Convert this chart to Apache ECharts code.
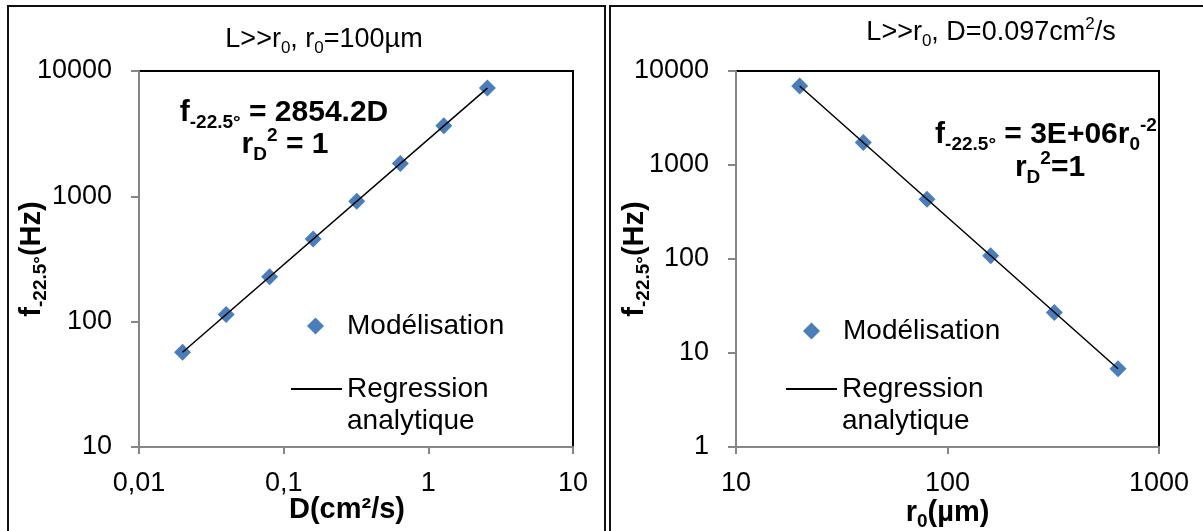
<!DOCTYPE html>
<html>
<head>
<meta charset="utf-8">
<script src="https://cdn.jsdelivr.net/npm/echarts@6/dist/echarts.min.js"></script>
<style>
html,body{margin:0;padding:0;background:#fff;}
#chart{width:1203px;height:531px;}
</style>
</head>
<body>
<div id="chart"></div>
<script>
// ---------- data ----------
const leftD = [0.02, 0.04, 0.08, 0.16, 0.32, 0.64, 1.28, 2.56];
const leftF = [57, 114, 228, 457, 913, 1827, 3653, 7307];
const leftRegD = [0.02, 2.56];
const leftRegF = [57, 7307];

const rightR0 = [20, 40, 80, 160, 320, 640];
const rightF = [6920, 1730, 433, 108, 27, 6.8];
const rightRegR0 = [20, 640];
const rightRegF = [6920, 6.8];

const leftXTicks = ['0,01', '0,1', '1', '10'];
const leftYTicks = ['10', '100', '1000', '10000'];
const rightXTicks = ['10', '100', '1000'];
const rightYTicks = ['1', '10', '100', '1000', '10000'];

const legendLabels = ['Modélisation', 'Regression', 'analytique'];

// ---------- styles ----------
const FONT = '"Liberation Sans", Arial, sans-serif';
const BLUE = '#4A7EBB';
const AXIS_GRAY = '#868686';
const TICK_FS = 27;
const LEG_FS = 28;
const NAME_FS = 29;
const TITLE_FS = 27;
const EQ_FS = 30;

function zip(a, b) { return a.map((v, i) => [v, b[i]]); }
function tickFmt(ticks, min) {
  return function (v) {
    const i = Math.round(Math.log10(v) - Math.log10(min));
    return ticks[i] !== undefined ? ticks[i] : '';
  };
}

function subRich(fs, bold) {
  const w = bold ? 'bold' : 'normal';
  const lh = Math.round(fs * 1.25);
  return {
    m: { fontSize: fs, fontWeight: w, fontFamily: FONT, color: '#000', lineHeight: lh, verticalAlign: 'middle' },
    sub: { fontSize: Math.round(fs * 0.64), fontWeight: w, fontFamily: FONT, color: '#000', lineHeight: Math.round(fs * 0.7), verticalAlign: 'bottom' },
    sup: { fontSize: Math.round(fs * 0.64), fontWeight: w, fontFamily: FONT, color: '#000', lineHeight: Math.round(fs * 0.7), verticalAlign: 'top' }
  };
}

function xAxis(gi, min, max, ticks, nameRich, nameText, nameGap, namePad) {
  return {
    type: 'log', logBase: 10, gridIndex: gi, min: min, max: max,
    name: nameText, nameLocation: 'middle', nameGap: nameGap, nameMoveOverlap: false,
    nameTextStyle: { rich: nameRich, padding: namePad },
    axisLine: { show: true, lineStyle: { color: AXIS_GRAY, width: 2 } },
    axisTick: { show: true, inside: false, length: 7, lineStyle: { color: AXIS_GRAY, width: 2 } },
    minorTick: { show: false },
    splitLine: { show: false },
    axisLabel: { formatter: tickFmt(ticks, min), fontSize: TICK_FS, fontFamily: FONT, color: '#000', margin: 23, showMinLabel: true, showMaxLabel: true, hideOverlap: false }
  };
}
function yAxis(gi, min, max, ticks, nameRich, nameText, nameGap) {
  return {
    type: 'log', logBase: 10, gridIndex: gi, min: min, max: max,
    name: nameText, nameLocation: 'middle', nameGap: nameGap, nameMoveOverlap: false,
    nameTextStyle: { rich: nameRich },
    axisLine: { show: true, lineStyle: { color: AXIS_GRAY, width: 2 } },
    axisTick: { show: true, inside: false, length: 8, lineStyle: { color: AXIS_GRAY, width: 2 } },
    minorTick: { show: false },
    splitLine: { show: false },
    axisLabel: { formatter: tickFmt(ticks, min), fontSize: TICK_FS, fontFamily: FONT, color: '#000', margin: 27, showMinLabel: true, showMaxLabel: true, hideOverlap: false }
  };
}

const nameRich = subRich(NAME_FS, true);
const titleRich = subRich(TITLE_FS, false);
const eqRich = subRich(EQ_FS, true);
const legRich = { t: { fontSize: LEG_FS, fontFamily: FONT, color: '#000', lineHeight: 32 } };
const legRichPad = { t: { fontSize: LEG_FS, fontFamily: FONT, color: '#000', lineHeight: 32, padding: [0, 0, 0, 18] } };

function markerLegend(seriesName, left, top) {
  return {
    data: [{ name: seriesName, icon: 'diamond', itemStyle: { color: BLUE, opacity: 1 } }],
    left: left, top: top, orient: 'vertical', padding: 0,
    itemWidth: 17, itemHeight: 17, selectedMode: false,
    formatter: function () { return '{t|' + legendLabels[0] + '}'; },
    textStyle: { rich: legRichPad }
  };
}
function lineLegend(seriesName, left, top) {
  return {
    data: [{ name: seriesName, icon: 'rect', itemStyle: { color: '#000', opacity: 1 } }],
    left: left, top: top, orient: 'vertical', padding: 0,
    itemWidth: 51, itemHeight: 2, selectedMode: false,
    formatter: function () { return '{t| }\n{t|' + legendLabels[1] + '}\n{t|' + legendLabels[2] + '}'; },
    textStyle: { rich: legRich }
  };
}

function gText(x, y, text, rich) {
  return { type: 'text', x: x, y: y, style: { text: text, rich: rich, align: 'center', verticalAlign: 'middle' } };
}

const option = {
  animation: false,
  backgroundColor: '#fff',
  grid: [
    { left: 139, top: 71, width: 434, height: 376, show: true, borderColor: '#000', borderWidth: 2, backgroundColor: 'transparent', containLabel: false, outerBoundsMode: 'none' },
    { left: 736, top: 71, width: 423, height: 376, show: true, borderColor: '#000', borderWidth: 2, backgroundColor: 'transparent', containLabel: false, outerBoundsMode: 'none' }
  ],
  xAxis: [
    xAxis(0, 0.01, 10, leftXTicks, nameRich, '{m|D(cm²/s)}', 45, [0, 18, 0, 0]),
    xAxis(1, 10, 1000, rightXTicks, nameRich, '{m|r}{sub|0}{m|(µm)}', 48, 0)
  ],
  yAxis: [
    yAxis(0, 10, 10000, leftYTicks, nameRich, '{m|f}{sub|-22.5°}{m|(Hz)}', 89),
    yAxis(1, 1, 10000, rightYTicks, nameRich, '{m|f}{sub|-22.5°}{m|(Hz)}', 83)
  ],
  legend: [
    markerLegend('modL', 307, 312),
    lineLegend('regL', 291, 343),
    markerLegend('modR', 803, 317),
    lineLegend('regR', 786, 343)
  ],
  series: [
    { name: 'regL', type: 'line', xAxisIndex: 0, yAxisIndex: 0, data: zip(leftRegD, leftRegF), symbol: 'none', lineStyle: { color: '#000', width: 1.5 }, itemStyle: { color: '#000' }, z: 3 },
    { name: 'modL', type: 'scatter', xAxisIndex: 0, yAxisIndex: 0, data: zip(leftD, leftF), symbol: 'diamond', symbolSize: 17, itemStyle: { color: BLUE, opacity: 1 }, z: 2 },
    { name: 'regR', type: 'line', xAxisIndex: 1, yAxisIndex: 1, data: zip(rightRegR0, rightRegF), symbol: 'none', lineStyle: { color: '#000', width: 1.5 }, itemStyle: { color: '#000' }, z: 3 },
    { name: 'modR', type: 'scatter', xAxisIndex: 1, yAxisIndex: 1, data: zip(rightR0, rightF), symbol: 'diamond', symbolSize: 17, itemStyle: { color: BLUE, opacity: 1 }, z: 2 }
  ],
  graphic: [
    { type: 'polyline', shape: { points: [[8, 560], [8, 6], [605, 6], [605, 560]] }, style: { stroke: '#111', lineWidth: 2, fill: null } },
    { type: 'polyline', shape: { points: [[610, 560], [610, 6], [1220, 6]] }, style: { stroke: '#111', lineWidth: 2, fill: null } },
    gText(324, 40, '{m|L>>r}{sub|0}{m|, r}{sub|0}{m|=100µm}', titleRich),
    gText(991, 33, '{m|L>>r}{sub|0}{m|, D=0.097cm}{sup|2}{m|/s}', titleRich),
    gText(284, 113, '{m|f}{sub|-22.5°}{m| = 2854.2D}', eqRich),
    gText(285, 145, '{m|r}{sub|D}{sup|2}{m| = 1}', eqRich),
    gText(1046, 135, '{m|f}{sub|-22.5°}{m| = 3E+06r}{sub|0}{sup|-2}', eqRich),
    gText(1050, 168, '{m|r}{sub|D}{sup|2}{m|=1}', eqRich)
  ]
};

const chart = echarts.init(document.getElementById('chart'), null, { renderer: 'canvas' });
chart.setOption(option);
</script>
</body>
</html>
